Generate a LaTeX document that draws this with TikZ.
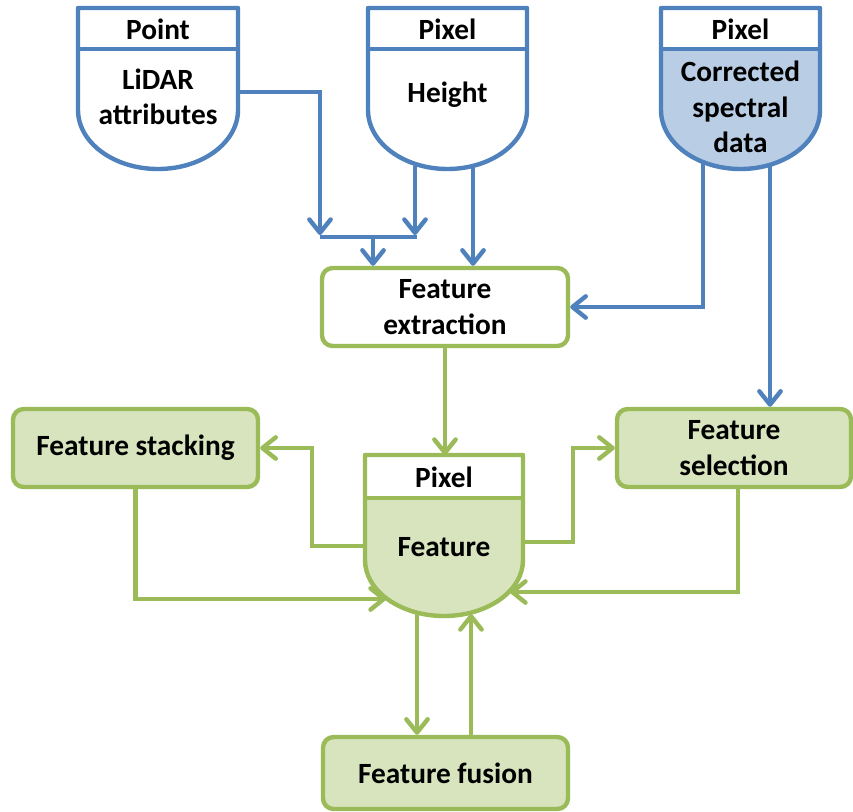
\documentclass[tikz,border=0pt]{standalone}
\usepackage{fontspec}
\setmainfont{Carlito}
\usetikzlibrary{arrows.meta}
\definecolor{bl}{HTML}{4F81BD}
\definecolor{blf}{HTML}{B9CDE5}
\definecolor{gr}{HTML}{9BBB59}
\definecolor{grf}{HTML}{D7E4BD}
\newcommand\dbshape[8]{%
  \pgfmathsetmacro\dbxc{(#1+#2)/2}%
  \pgfmathsetmacro\dbrx{(#2-#1)/2}%
  \pgfmathsetmacro\dbry{#6-#5}%
  \fill[white] (#1,#3) rectangle (#2,#4);
  \fill[#8] (#1,#4) -- (#2,#4) -- (#2,#5) .. controls (#2,#5+0.5523*\dbry) and (\dbxc+0.5523*\dbrx,#6) .. (\dbxc,#6) .. controls (\dbxc-0.5523*\dbrx,#6) and (#1,#5+0.5523*\dbry) .. (#1,#5) -- cycle;
  \draw[#7, line join=round] (#1,#3) -- (#2,#3) -- (#2,#5) .. controls (#2,#5+0.5523*\dbry) and (\dbxc+0.5523*\dbrx,#6) .. (\dbxc,#6) .. controls (\dbxc-0.5523*\dbrx,#6) and (#1,#5+0.5523*\dbry) .. (#1,#5) -- cycle;
  \draw[#7] (#1,#4) -- (#2,#4);
}
\begin{document}
\begin{tikzpicture}[x=0.75pt,y=-0.75pt,line width=3.3pt,
  txt/.style={font=\fontsize{22}{26.5}\selectfont\bfseries,align=center,inner sep=0pt},
  gbox/.style={txt,draw=gr,rounded corners=8pt,line width=3.3pt,minimum height=58.5pt},
  tipstyle/.style={-{Straight Barb[length=10pt,width=16pt,line cap=round,line join=round]}},
  barrow/.style={draw=bl,tipstyle},
  garrow/.style={draw=gr,tipstyle}]
\useasboundingbox (0,0) rectangle (853,811);

% storage shapes
\dbshape{78}{238}{8}{49}{110}{169}{bl}{white}
\dbshape{368}{527}{8}{49}{110}{169}{bl}{white}
\dbshape{661}{820}{8}{49}{110}{169}{bl}{blf}
\dbshape{365}{523}{455}{498}{560}{616}{gr}{grf}

\node[txt] (p1h) at (158,29) {Point};
\node[txt] (p1b) at (158,97) {LiDAR\\attributes};
\node[txt] (p2h) at (447.5,29) {Pixel};
\node[txt] (p2b) at (447.5,95) {Height};
\node[txt] (p3h) at (740.5,29) {Pixel};
\node[txt] (p3b) at (740.5,107) {Corrected\\spectral\\data};
\node[txt] (fh) at (444,477) {Pixel};
\node[txt] (fb) at (444,547) {Feature};

% boxes
\node[gbox,fill=white,minimum width=184.5pt] (extract) at (445,307) {Feature\\extraction};
\node[gbox,fill=grf,minimum width=183.75pt] (stack) at (135.5,448) {Feature stacking};
\node[gbox,fill=grf,minimum width=175.5pt] (select) at (734,448) {Feature\\selection};
\node[gbox,fill=grf,minimum width=183.75pt,minimum height=54pt] (fusion) at (445.5,773) {Feature fusion};

% anchor coordinates on storage shapes
\coordinate (c1r) at (238,92);
\coordinate (hl) at (320,237);
\coordinate (hr) at (417,237);
\coordinate (hm) at (373,237);
\coordinate (a1) at (320,235);
\coordinate (a2) at (415,235);
\coordinate (c2a) at (415,166);
\coordinate (c2b) at (473,168);
\coordinate (c3a) at (703,163);
\coordinate (c3b) at (770,166);
\coordinate (ftop) at (444,455);
\coordinate (fl) at (365,546);
\coordinate (fr) at (523,542);
\coordinate (fcl) at (386,599);
\coordinate (fcr) at (510,592);
\coordinate (fbl) at (417,613);
\coordinate (fbr) at (471,614);

% blue connectors
\draw[barrow] (c1r) -| (a1);
\draw[barrow] (c2a) -- (a2);
\draw[bl] (hl) -- (hr);
\draw[barrow] (hm) -- (hm |- extract.north);
\draw[barrow] (c2b) -- (c2b |- extract.north);
\draw[barrow] (c3a) |- (extract.east);
\draw[barrow] (c3b) -- (c3b |- select.north);

% green connectors
\draw[garrow] (extract.south) -- (extract.south |- ftop);
\draw[garrow] (fl) -- ++(-53,0) |- (stack.east);
\draw[garrow] (stack.south) |- (fcl);
\draw[garrow] (fr) -- ++(50,0) |- (select.west);
\draw[garrow] ([xshift=3pt]select.south) |- (fcr);
\draw[garrow] (fbl) -- (fbl |- fusion.north);
\draw[garrow] (fbr |- fusion.north) -- (fbr);
\end{tikzpicture}
\end{document}
